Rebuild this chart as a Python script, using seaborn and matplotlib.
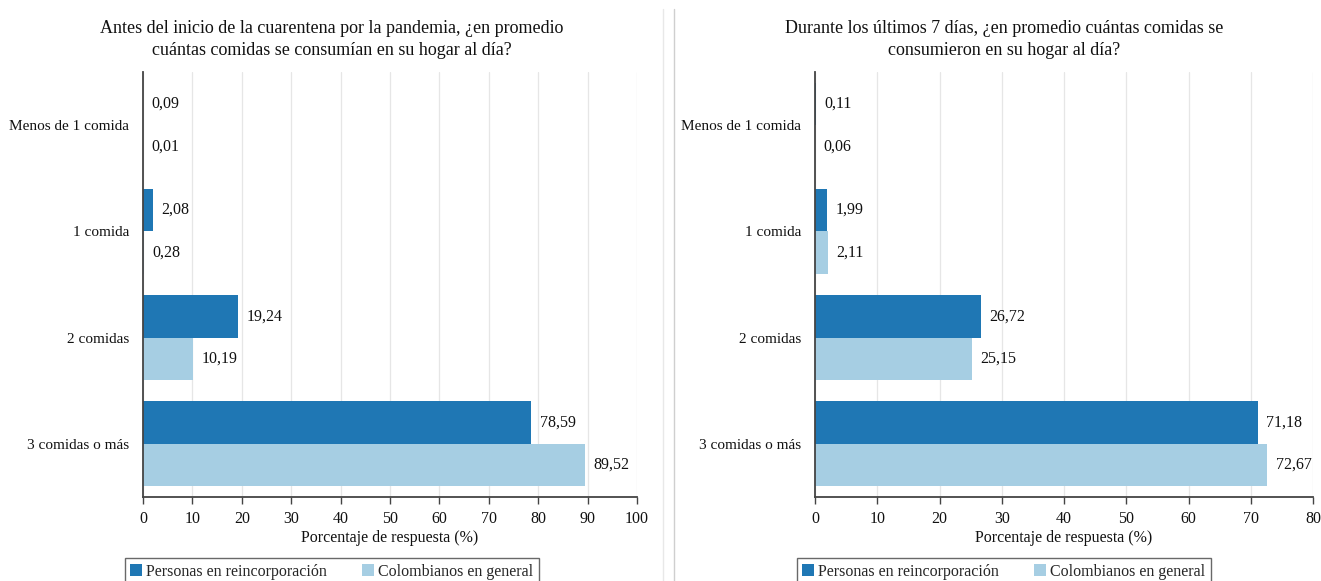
import matplotlib
matplotlib.use("Agg")
import matplotlib.pyplot as plt
import seaborn as sns
import pandas as pd
from matplotlib.lines import Line2D

categories = ["Menos de 1 comida", "1 comida", "2 comidas", "3 comidas o más"]
series_names = ["Personas en reincorporación", "Colombianos en general"]
antes_reinc = [0.09, 2.08, 19.24, 78.59]
antes_col = [0.01, 0.28, 10.19, 89.52]
durante_reinc = [0.11, 1.99, 26.72, 71.18]
durante_col = [0.06, 2.11, 25.15, 72.67]
titles = [
    "Antes del inicio de la cuarentena por la pandemia, ¿en promedio\ncuántas comidas se consumían en su hogar al día?",
    "Durante los últimos 7 días, ¿en promedio cuántas comidas se\nconsumieron en su hogar al día?",
]
xmax = [100, 80]
xlabel = "Porcentaje de respuesta (%)"
colors = ["#1F77B4", "#A6CEE3"]

sns.set_theme(style="white")
plt.rcParams["font.family"] = ["Liberation Serif", "DejaVu Serif"]

W, H = 1321, 581
fig = plt.figure(figsize=(W / 100, H / 100), dpi=100)
positions = [[143 / W, 1 - 497 / H, 494 / W, 425 / H], [815 / W, 1 - 497 / H, 498 / W, 425 / H]]
panel_centers = [332 / W, 1004 / W]
datasets = [(antes_reinc, antes_col), (durante_reinc, durante_col)]
fs = 11.5

for i in range(2):
    ax = fig.add_axes(positions[i])
    a, b = datasets[i]
    df = pd.DataFrame({
        "cat": categories * 2,
        "serie": [series_names[0]] * 4 + [series_names[1]] * 4,
        "val": a + b,
    })
    sns.barplot(data=df, x="val", y="cat", hue="serie", orient="h",
                palette=colors, width=0.8, saturation=1, ax=ax, legend=True,
                order=categories, hue_order=series_names, linewidth=0)
    for c in ax.containers:
        labs = [f"{v:.2f}".replace(".", ",") for v in c.datavalues]
        ax.bar_label(c, labels=labs, padding=6, fontsize=fs, color="#111111")
    ax.set_xlim(0, xmax[i])
    ax.set_xticks(range(0, xmax[i] + 1, 10))
    ax.set_ylim(3.5, -0.5)
    ax.grid(axis="x", color="#E6E6E6", linewidth=0.9)
    ax.set_axisbelow(True)
    for s in ["top", "right"]:
        ax.spines[s].set_visible(False)
    for s in ["left", "bottom"]:
        ax.spines[s].set_color("#444444")
        ax.spines[s].set_linewidth(1.3)
    ax.tick_params(axis="x", bottom=True, direction="out", length=5, width=1,
                   color="#444444", labelsize=fs, labelcolor="#111111", pad=5)
    ax.tick_params(axis="y", left=False, length=0, labelsize=11, labelcolor="#111111", pad=10)
    ax.set_ylabel("")
    ax.set_xlabel(xlabel, fontsize=fs, color="#111111", labelpad=2)
    fig.text(panel_centers[i], 1 - 20 / H, titles[i], ha="center", va="top",
             fontsize=13, color="#111111", linespacing=1.35)
    handles, labels = ax.get_legend_handles_labels()
    ax.legend_.remove()
    leg = fig.legend(handles, labels, loc="upper center",
                     bbox_to_anchor=(panel_centers[i], 1 - 558 / H),
                     bbox_transform=fig.transFigure,
                     ncol=2, frameon=True, fontsize=fs, handlelength=0.7, handleheight=0.7,
                     handletextpad=0.3, columnspacing=2.2, fancybox=False, borderpad=0.35,
                     borderaxespad=0)
    leg.get_frame().set_edgecolor("#444444")
    leg.get_frame().set_linewidth(1.0)

fig.add_artist(Line2D([663 / W, 663 / W], [0, 0.985], color="#E8E8E8", lw=1, transform=fig.transFigure))
fig.add_artist(Line2D([674 / W, 674 / W], [0, 0.985], color="#CFCFCF", lw=1, transform=fig.transFigure))

fig.savefig("out.png", dpi=100)
